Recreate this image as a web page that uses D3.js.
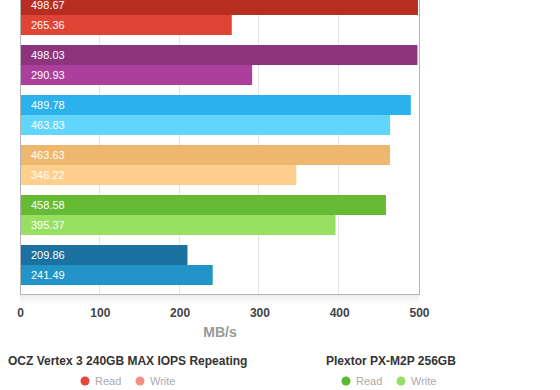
<!DOCTYPE html>
<html>
<head>
<meta charset="utf-8">
<script src="https://cdn.jsdelivr.net/npm/d3@7/dist/d3.min.js"></script>
<style>
  html, body { margin: 0; padding: 0; background: #fff; }
  svg { display: block; font-family: "Liberation Sans", Arial, Helvetica, sans-serif; }
</style>
</head>
<body>
<svg id="chart" width="560" height="390"></svg>
<script>
// one entry per drive group, top to bottom
const groups = ["g1", "g2", "g3", "g4", "g5", "g6"];
const readValues = [498.67, 498.03, 489.78, 463.63, 458.58, 209.86];
const writeValues = [265.36, 290.93, 463.83, 346.22, 395.37, 241.49];
const readColors = ["#b72d22", "#8d347d", "#2bb1eb", "#edb86d", "#66bb34", "#1b72a0"];
const writeColors = ["#e04435", "#ad3f9c", "#62d5fd", "#fecf8c", "#97e064", "#2394c7"];
const xTicks = [0, 100, 200, 300, 400, 500];
const axisTitle = "MB/s";

const legendNames = ["OCZ Vertex 3 240GB MAX IOPS Repeating", "Plextor PX-M2P 256GB"];
const legendRead = ["#e8463c", "#5cb82f"];
const legendWrite = ["#f38f87", "#97dd66"];
const seriesNames = ["Read", "Write"];

const svg = d3.select("#chart");
const plotLeft = 20, plotRight = 419, plotTop = -14, plotBottom = 294;

const x = d3.scaleLinear().domain([0, 500]).range([plotLeft, plotRight]);
const y = d3.scaleBand().domain(groups).range([plotTop, plotBottom]).paddingInner(0.2).paddingOuter(0.18);
const sub = d3.scaleBand().domain(["read", "write"]).range([0, y.bandwidth()]);

// soft shadow under the plot
const defs = svg.append("defs");
const grad = defs.append("linearGradient").attr("id", "shadow").attr("x1", 0).attr("y1", 0).attr("x2", 0).attr("y2", 1);
grad.append("stop").attr("offset", "0%").attr("stop-color", "#000").attr("stop-opacity", 0.07);
grad.append("stop").attr("offset", "100%").attr("stop-color", "#000").attr("stop-opacity", 0);
svg.append("rect").attr("x", plotLeft).attr("y", plotBottom + 1).attr("width", plotRight - plotLeft).attr("height", 10).attr("fill", "url(#shadow)");

// grid
svg.append("g")
  .selectAll("line")
  .data(xTicks.slice(1, -1))
  .join("line")
  .attr("x1", (d) => Math.round(x(d)) - 0.5)
  .attr("x2", (d) => Math.round(x(d)) - 0.5)
  .attr("y1", 0)
  .attr("y2", plotBottom)
  .attr("stroke", "#e6e6e6")
  .attr("stroke-width", 1);

const rows = [];
groups.forEach((g, i) => {
  rows.push({ g, k: "read", v: readValues[i], c: readColors[i] });
  rows.push({ g, k: "write", v: writeValues[i], c: writeColors[i] });
});

const bars = svg.append("g");
bars.selectAll("rect")
  .data(rows)
  .join("rect")
  .attr("x", x(0))
  .attr("y", (d) => y(d.g) + sub(d.k))
  .attr("width", (d) => x(d.v) - x(0))
  .attr("height", sub.bandwidth())
  .attr("fill", (d) => d.c);

bars.selectAll("text")
  .data(rows)
  .join("text")
  .attr("x", x(0) + 11)
  .attr("y", (d) => y(d.g) + sub(d.k) + sub.bandwidth() / 2)
  .attr("dy", "0.35em")
  .attr("font-size", 11)
  .attr("fill", "#fff")
  .text((d) => d.v.toFixed(2));

// frame: left axis, right edge, bottom edge
const frame = svg.append("g").attr("stroke", "#b3b3b3").attr("stroke-width", 1).attr("fill", "none");
frame.append("line").attr("x1", plotLeft + 0.5).attr("x2", plotLeft + 0.5).attr("y1", 0).attr("y2", plotBottom + 0.5);
frame.append("line").attr("x1", plotRight + 0.5).attr("x2", plotRight + 0.5).attr("y1", 0).attr("y2", plotBottom + 0.5);
frame.append("line").attr("x1", plotLeft).attr("x2", plotRight + 1).attr("y1", plotBottom + 0.5).attr("y2", plotBottom + 0.5);

// x tick labels
const xAxis = svg.append("g")
  .attr("transform", `translate(0,${plotBottom})`)
  .call(d3.axisBottom(x).tickValues(xTicks).tickSize(0).tickPadding(14));
xAxis.select(".domain").remove();
xAxis.selectAll("text")
  .attr("font-family", "'Liberation Sans', Arial, sans-serif")
  .attr("font-size", 12)
  .attr("font-weight", "bold")
  .attr("fill", "#444");

svg.append("text")
  .attr("x", 220)
  .attr("y", 332)
  .attr("dy", "0.35em")
  .attr("text-anchor", "middle")
  .attr("font-size", 14)
  .attr("font-weight", "bold")
  .attr("fill", "#999")
  .text(axisTitle);

// legend
const legendX = [8, 326];
const legendDot = [85, 346];
legendNames.forEach((name, i) => {
  const lg = svg.append("g");
  lg.append("text")
    .attr("x", legendX[i])
    .attr("y", 361)
    .attr("dy", "0.35em")
    .attr("font-size", 12)
    .attr("font-weight", "bold")
    .attr("fill", "#333")
    .text(name);
  [legendRead[i], legendWrite[i]].forEach((c, j) => {
    const cx = legendDot[i] + j * 55;
    lg.append("circle").attr("cx", cx).attr("cy", 381).attr("r", 4.5).attr("fill", c);
    lg.append("text")
      .attr("x", cx + 10)
      .attr("y", 381)
      .attr("dy", "0.35em")
      .attr("font-size", 11)
      .attr("fill", "#aaa")
      .text(seriesNames[j]);
  });
});
</script>
</body>
</html>
